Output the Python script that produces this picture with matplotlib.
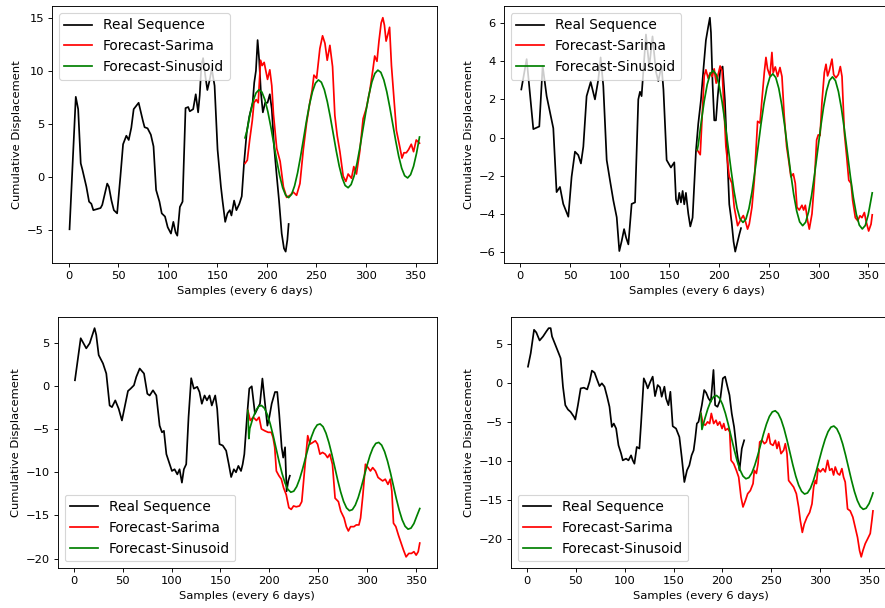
import matplotlib
matplotlib.use("Agg")
import matplotlib.pyplot as plt

# ---- panel 1 (top left) ----
p1_real_x = [1, 7.3, 9.7, 12.3, 14, 18, 20.7, 23, 25, 32.3, 34, 39, 40.7, 43.3, 45.7, 49, 52.3, 55, 58.3, 60.7,
             63.3, 65.7, 70.7, 75, 76.7, 79.7, 83, 85.7, 88.3, 91.7, 94, 97.3, 100, 103.3, 105.7, 108, 109.7, 112.3,
             115, 118, 120.7, 122.3, 125.7, 128.3, 130.7, 132.3, 134, 135.7, 138, 140, 142, 144.5, 147.3, 150.3,
             153.7, 155.3, 158, 160.3, 162.7, 164.3, 167, 169.3, 172.3, 174.7, 177, 179.7, 182.3, 185.7, 187.3, 189,
             190.7, 192.3, 194, 196, 198.3, 200.7, 203, 205, 207.3, 209.7, 212.3, 215, 217.3, 219, 220.7, 222]
p1_real_y = [-4.9, 7.56, 6.4, 1.3, 0.7, -0.9, -2.3, -2.5, -3.1, -2.9, -2.6, -0.6, -0.9, -2.2, -3.1, -3.4, 0.06, 3.1,
             3.9, 3.5, 4.65, 6.4, 7.0, 5.3, 4.7, 4.6, 4.0, 2.9, -1.2, -2.3, -3.4, -3.7, -4.7, -5.3, -4.2, -5.2, -5.5,
             -2.8, -2.3, 6.5, 6.6, 6.2, 6.4, 7.8, 6.1, 7.7, 10.5, 11.2, 9.5, 8.2, 9.0, 10.2, 8.6, 2.6, -0.9, -2.2,
             -4.2, -3.4, -3.1, -3.6, -2.2, -3.1, -2.5, -1.8, 1.3, 4.2, 5.7, 7.0, 8.9, 10.0, 12.9, 11.0, 8.0, 6.1, 7.0,
             7.0, 7.8, 6.4, 2.9, 0.4, -2.2, -5.3, -6.7, -7.0, -5.9, -4.4]
p1_sar_x = [178, 180.3, 182.7, 185.3, 187, 189.3, 191.3, 193.7, 195.3, 197.3, 199, 200.7, 203, 205, 206.7, 210,
            213.4, 216.7, 220, 223.4, 226.7, 230, 233.4, 236.8, 240.1, 243.5, 245.7, 247.5, 250.2, 253.5, 256.2,
            258.6, 260.9, 263.6, 266.3, 268.6, 271, 273.7, 277, 279.7, 282, 285.4, 287.7, 290.4, 293.7, 297.1,
            300.4, 303.8, 307.1, 308.8, 311.1, 313.1, 315.3, 317, 318.6, 320.3, 322, 323.8, 325.7, 328.3, 330.7,
            334, 336.3, 338.3, 340.7, 343, 345.7, 348, 350.7, 354]
p1_sar_y = [1.3, 1.6, 3.5, 5.3, 7.0, 7.3, 7.0, 11.0, 10.5, 10.8, 10.0, 9.2, 10.1, 8.6, 5.9, 2.7, 1.5, -0.9, -1.9,
            -1.7, -1.4, -1.7, -0.6, 2.6, 5.1, 7.1, 8.2, 9.6, 9.3, 12.1, 13.3, 12.6, 11.0, 12.4, 10.4, 5.8, 3.9, 2.4,
            0.1, -0.4, 0.3, -0.1, 1.0, 0.3, 2.4, 5.5, 6.5, 8.1, 10.2, 11.4, 10.9, 12.8, 14.5, 15.0, 14.3, 12.8,
            13.4, 14.1, 10.5, 7.3, 4.4, 2.9, 1.8, 2.3, 2.3, 2.6, 3.1, 2.4, 3.5, 3.2]
p1_sin_x = [178, 180, 183, 186, 189, 192, 195, 198, 201, 204, 207, 210, 213, 216, 219, 222, 225, 228, 231, 234,
            237, 240, 243, 246, 249, 252, 255, 258, 261, 264, 267, 270, 273, 276, 279, 282, 285, 288, 291, 294,
            297, 300, 303, 306, 309, 312, 315, 318, 321, 324, 327, 330, 333, 336, 339, 342, 345, 348, 351, 354]
p1_sin_y = [3.7, 4.38, 5.9, 7.12, 7.91, 8.22, 8.01, 7.3, 6.18, 4.75, 3.15, 1.56, 0.12, -1.0, -1.7, -1.92, -1.61,
            -0.81, 0.4, 1.93, 3.61, 5.3, 6.83, 8.04, 8.84, 9.15, 8.93, 8.23, 7.1, 5.67, 4.08, 2.48, 1.05, -0.07,
            -0.78, -0.99, -0.69, 0.11, 1.33, 2.85, 4.54, 6.22, 7.75, 8.97, 9.76, 10.07, 9.86, 9.15, 8.03, 6.59,
            5.0, 3.41, 1.97, 0.85, 0.14, -0.07, 0.24, 1.03, 2.25, 3.78]

# ---- panel 2 (top right) ----
p2_real_x = [1, 6.4, 13.1, 19.1, 22.5, 26.5, 33.2, 36.5, 39.9, 43.2, 48.3, 51.6, 55, 58.3, 61, 63.4, 66.7, 70.8,
             75.1, 78.5, 80.8, 83.5, 86.9, 90.2, 93.6, 97, 99.6, 102, 104.4, 106.4, 108.7, 112, 115.4, 118.7, 120.4,
             122, 126.4, 129.7, 133, 136.4, 138.8, 142.1, 144, 147.2, 151.5, 154.9, 156.6, 158.2, 159.9, 161.6,
             163.3, 164.9, 166.6, 169, 171, 173.3, 176.7, 179, 181.7, 184.4, 186.7, 189, 190.7, 191.8, 193.4,
             195.1, 196.8, 198.5, 201.1, 203.5, 205.8, 207.8, 210.2, 212.5, 214.5, 216.2, 217.9, 220.2, 222]
p2_real_y = [2.52, 4.11, 0.44, 0.58, 3.76, 2.17, 0.49, -2.86, -2.59, -3.48, -4.15, -2.06, -0.74, -0.92, -1.36,
             -0.48, 2.17, 2.91, 2.0, 3.05, 4.2, 2.7, -1.18, -2.24, -3.3, -4.18, -5.95, -5.42, -4.8, -5.24, -5.6,
             -3.48, -3.4, 2.0, 2.4, 2.17, 5.4, 3.7, 5.3, 3.46, 2.96, 3.76, 2.5, -1.18, -1.57, -1.3, -3.25, -3.5,
             -2.9, -3.4, -2.8, -3.5, -2.9, -4.0, -4.66, -4.2, -0.7, 0.72, 1.96, 3.7, 5.1, 5.8, 6.28, 5.5, 2.84,
             0.9, 0.9, 2.1, 3.55, 3.72, 1.96, -0.5, -3.5, -4.4, -5.45, -5.98, -5.6, -5.1, -4.75]
p2_sar_x = [178, 181, 183, 185, 186.7, 189, 191, 193, 195, 197, 199, 201, 203, 206.8, 210.2, 212.9, 215.2, 218.6,
            222, 224.3, 226.3, 228.6, 230.3, 233, 235.4, 238.7, 241.1, 243.1, 245.4, 247.1, 248.7, 251.1, 253.1,
            254.4, 256.5, 258.8, 261.2, 263.2, 265.5, 267.9, 269.9, 272.2, 274.6, 276.6, 278.3, 280.6, 283.3, 285,
            286.7, 289, 290.7, 293.4, 295.7, 298.1, 299.7, 301.5, 303.4, 305.8, 307.5, 309.1, 310.8, 313.5, 315.2,
            317.5, 319.9, 321.9, 323.6, 326, 328.3, 330.4, 332.7, 334.3, 337, 339.4, 341.7, 343.7, 346.1, 347.7,
            350.4, 352.8, 354]
p2_sar_y = [-0.65, -0.9, 1.2, 3.23, 3.55, 3.1, 3.4, 3.2, 3.6, 2.85, 3.3, 3.75, 3.5, -0.48, -2.06, -2.4, -3.65,
            -4.62, -4.27, -4.09, -4.36, -4.8, -4.54, -3.65, -2.24, 0.85, 0.76, 2.0, 3.4, 4.2, 3.6, 3.23, 4.46, 3.4,
            3.7, 3.2, 3.67, 3.2, 1.11, -0.48, -1.18, -2.06, -1.9, -2.4, -3.65, -3.8, -3.55, -3.8, -3.55, -4.36, -4.8,
            -4.0, -2.4, -0.12, 0.14, 0.1, 1.82, 3.4, 3.84, 3.23, 3.5, 4.11, 3.3, 3.13, 3.3, 3.72, 3.2, 0.23, -1.0,
            -2.24, -2.4, -3.3, -4.2, -4.36, -4.1, -4.2, -3.93, -4.36, -4.9, -4.54, -4.05]
p2_sin_x = [178, 179, 182, 185, 188, 191, 194, 197, 200, 203, 206, 209, 212, 215, 218, 221, 224, 227, 230, 233,
            236, 239, 242, 245, 248, 251, 254, 257, 260, 263, 266, 269, 272, 275, 278, 281, 284, 287, 290, 293,
            296, 299, 302, 305, 308, 311, 314, 317, 320, 323, 326, 329, 332, 335, 338, 341, 344, 347, 350, 353, 354]
p2_sin_y = [-0.65, -0.39, 0.82, 1.91, 2.78, 3.33, 3.51, 3.31, 2.74, 1.86, 0.76, -0.47, -1.7, -2.81, -3.69, -4.26,
            -4.45, -4.27, -3.72, -2.86, -1.77, -0.56, 0.66, 1.75, 2.61, 3.16, 3.34, 3.14, 2.58, 1.7, 0.59, -0.64,
            -1.87, -2.98, -3.85, -4.42, -4.62, -4.44, -3.89, -3.03, -1.93, -0.72, 0.49, 1.58, 2.44, 2.99, 3.18,
            2.98, 2.41, 1.53, 0.42, -0.81, -2.03, -3.14, -4.02, -4.59, -4.79, -4.61, -4.05, -3.19, -2.9]

# ---- panel 3 (bottom left) ----
p3_real_x = [1, 6.9, 12.6, 16.1, 21.1, 22.8, 25.3, 29.7, 33.1, 36.5, 38.9, 42.3, 45.8, 49.1, 51.9, 55.3, 58, 61.4,
             63.8, 67.3, 71.7, 75.1, 77.5, 80.9, 84.3, 87.7, 90.1, 92.1, 94.6, 98, 100.3, 103, 105.8, 108.1, 110.5,
             112.5, 114.9, 117.3, 120, 122.7, 126.2, 128.5, 130.9, 133.7, 136.1, 138.8, 141.1, 144.6, 146.6, 149,
             152.3, 155.8, 158.5, 160.9, 163.7, 165.9, 168.3, 171, 172.7, 174.4, 177.1, 179.5, 182, 185.3, 187.7,
             190.4, 192.9, 195.6, 198, 200, 202.4, 205.8, 208.1, 210.1, 212.6, 214.2, 216.1, 217.7, 219.4, 221]
p3_real_y = [0.66, 5.53, 4.36, 4.95, 6.7, 5.92, 3.58, 2.61, 1.44, -2.26, -2.45, -1.67, -2.65, -4.0, -2.45, -0.58,
             -0.31, 0.08, 1.05, 2.02, 1.44, -0.9, -1.1, -0.5, -1.1, -4.6, -5.37, -5.2, -7.9, -9.07, -9.85, -9.65,
             -10.24, -9.65, -11.2, -9.65, -9.07, -3.6, 0.9, -0.31, -0.1, -0.7, -2.06, -1.1, -1.67, -1.1, -2.26, -1.1,
             -2.65, -6.74, -6.9, -7.5, -9.07, -10.55, -9.65, -10.0, -9.26, -9.85, -9.07, -7.9, -3.62, -0.3, -0.04,
             -3.23, -2.65, -2.06, 0.86, -2.06, -4.6, -3.6, -2.06, -0.7, -0.7, -3.23, -7.1, -8.3, -7.1, -12.2, -11.0,
             -10.4]
p3_sar_x = [178, 180.5, 183.5, 186.8, 189.5, 191.9, 195.4, 198.8, 202, 203.8, 205.5, 207.2, 209.8, 212.3, 214.6,
            217.3, 220, 222.4, 224.8, 227.5, 230.9, 233.2, 236, 239.3, 241.7, 244.4, 247.1, 249.4, 251.8, 254.5,
            257.2, 259.6, 261.9, 264.6, 267.3, 270.7, 273.1, 276.5, 278.8, 280.9, 283.2, 286.6, 289, 291.7, 293.4,
            295.8, 298.4, 301.1, 303.5, 305.8, 308.6, 311.3, 313.6, 316, 318.7, 321.4, 323.8, 325.4, 327.1, 329.5,
            332.2, 334.6, 337.3, 340, 342.8, 345.5, 348, 350.3, 352.4, 354]
p3_sar_y = [-2.84, -4.0, -3.62, -4.0, -3.62, -4.98, -5.2, -5.37, -5.37, -5.96, -7.1, -9.85, -10.4, -10.8, -11.8,
            -12.6, -14.1, -14.3, -13.9, -14.0, -13.9, -13.4, -9.85, -5.76, -6.74, -6.55, -6.35, -6.74, -7.9, -7.7,
            -7.9, -8.3, -7.9, -9.07, -13.0, -13.4, -14.5, -15.3, -16.3, -16.8, -16.3, -16.3, -16.1, -16.1, -15.3,
            -12.6, -9.07, -9.46, -9.85, -9.46, -9.85, -10.6, -10.8, -11.0, -10.8, -11.4, -10.8, -12.2, -15.9, -16.3,
            -17.3, -18.1, -19.0, -19.8, -19.4, -19.4, -19.2, -19.6, -19.2, -18.2]
p3_sin_x = [178, 179, 180, 183, 186, 189, 192, 195, 198, 201, 204, 207, 210, 213, 216, 219, 222, 225, 228, 231, 234,
            237, 240, 243, 246, 249, 252, 255, 258, 261, 264, 267, 270, 273, 276, 279, 282, 285, 288, 291, 294,
            297, 300, 303, 306, 309, 312, 315, 318, 321, 324, 327, 330, 333, 336, 339, 342, 345, 348, 351, 354]
p3_sin_y = [-2.84, -6.1, -4.93, -3.78, -2.9, -2.37, -2.26, -2.58, -3.33, -4.43, -5.78, -7.28, -8.78, -10.13,
            -11.23, -11.98, -12.31, -12.19, -11.66, -10.78, -9.63, -8.35, -7.07, -5.92, -5.04, -4.51, -4.4, -4.72,
            -5.47, -6.57, -7.92, -9.42, -10.92, -12.27, -13.37, -14.12, -14.45, -14.33, -13.8, -12.92, -11.77,
            -10.49, -9.21, -8.06, -7.18, -6.65, -6.54, -6.86, -7.61, -8.71, -10.06, -11.56, -13.06, -14.41,
            -15.51, -16.26, -16.59, -16.47, -15.94, -15.06, -14.2]

# ---- panel 4 (bottom right) ----
p4_real_x = [1, 3.8, 7.2, 9.5, 12.9, 16.4, 19.8, 22.2, 24.2, 25.6, 29, 32.4, 34.4, 36.8, 39.2, 41.9, 44.6, 48.1,
             49.4, 52.1, 54.9, 58.2, 61.6, 64, 66.4, 69.1, 71.8, 74.2, 76.6, 79.3, 82, 84.4, 86.8, 88.8, 91.2, 93.6,
             96.3, 98, 101.4, 103.8, 106.5, 108.2, 109.9, 112.3, 115, 116.7, 119.5, 121.8, 123.5, 126.2, 128.6, 131,
             133.7, 136.1, 137.8, 140.6, 142.3, 144.7, 146.7, 149.1, 152.5, 155.9, 158.3, 161, 163.7, 166.1, 168.4,
             170.5, 172.1, 173.8, 175.5, 178.9, 181.3, 183.3, 185.7, 188.1, 190.8, 192.5, 194.9, 197.6, 200.4,
             202.7, 205.1, 207.2, 209.5, 211.9, 214.6, 217.4, 219.8, 222.2]
p4_real_y = [2.1, 3.82, 6.83, 6.49, 5.46, 5.97, 6.62, 7.04, 7.04, 5.97, 4.9, 3.82, 3.18, -0.47, -2.84, -3.4, -3.7,
             -4.34, -4.68, -2.84, -0.69, -0.6, -0.82, 0.17, 1.59, 1.33, 0.39, -0.39, -0.04, -0.47, -1.76, -3.05,
             -5.63, -5.2, -5.84, -7.99, -9.06, -9.92, -9.7, -9.92, -9.28, -9.92, -10.35, -8.2, -8.4, -5.2, 0.6,
             -0.04, -0.69, 0.17, 0.82, -1.68, -0.26, -0.56, -1.76, -0.47, -1.98, -2.84, -1.12, -5.54, -5.84, -6.92,
             -9.5, -12.7, -11.2, -10.56, -9.28, -8.63, -7.13, -5.2, -4.98, -2.84, -0.9, -1.24, -1.98, -2.4, 1.68,
             -2.84, -3.05, -2.2, 0.6, 0.82, -0.47, -1.55, -3.91, -5.63, -8.63, -11.2, -8.4, -7.35]
p4_sar_x = [178, 180, 182.4, 184.8, 186.9, 188.6, 191, 193.4, 195.1, 197.2, 199.6, 201.3, 203, 205.4, 207.4, 208.8,
            211.5, 214.2, 216.6, 219, 221, 223.4, 225.8, 228.5, 231.3, 232.6, 234.7, 236.4, 238.1, 240.5, 242.9,
            244.9, 247.3, 249, 251.7, 254.1, 255.8, 257.5, 259.9, 262.6, 264.3, 266, 267.7, 270.1, 272.8, 275.6,
            277.9, 279.6, 281.7, 283.7, 286.5, 289.2, 291.6, 293.3, 295, 296.1, 297.8, 300.1, 302.9, 305.2, 307.6,
            309.7, 312, 313.7, 315.4, 317.8, 319.9, 322.2, 323.9, 325.6, 328, 330.7, 333.4, 335.8, 338.2, 340.3,
            342, 343.7, 346.1, 348.5, 351.2, 352.9, 354]
p4_sar_y = [-3.9, -5.2, -5.41, -4.98, -5.2, -3.9, -5.2, -4.77, -5.41, -4.98, -5.84, -5.2, -6.06, -5.84, -6.27,
            -9.92, -10.35, -11.2, -12.07, -14.65, -15.9, -15.1, -14.2, -13.8, -12.9, -11.2, -11.6, -10.35, -7.56,
            -7.35, -7.78, -7.56, -6.49, -7.78, -8.0, -7.35, -8.4, -7.56, -9.06, -8.63, -7.78, -9.06, -12.5, -12.9,
            -13.35, -14.2, -15.9, -17.6, -19.16, -18.08, -17.2, -16.6, -15.5, -13.35, -12.5, -12.9, -10.98, -11.4,
            -10.98, -11.4, -9.92, -11.2, -10.98, -11.8, -10.77, -11.6, -11.8, -10.98, -12.07, -12.7, -16.15, -16.4,
            -17.2, -18.5, -19.8, -21.5, -22.3, -21.5, -20.6, -20.0, -19.3, -17.6, -16.4]
p4_sin_x = [178, 179, 182, 185, 188, 191, 194, 197, 200, 203, 206, 209, 212, 215, 218, 221, 224, 227, 230, 233,
            236, 239, 242, 245, 248, 251, 254, 257, 260, 263, 266, 269, 272, 275, 278, 281, 284, 287, 290, 293,
            296, 299, 302, 305, 308, 311, 314, 317, 320, 323, 326, 329, 332, 335, 338, 341, 344, 347, 350, 353, 354]
p4_sin_y = [-3.9, -5.96, -4.56, -3.31, -2.33, -1.74, -1.6, -1.94, -2.73, -3.89, -5.34, -6.94, -8.54, -9.99, -11.15,
            -11.94, -12.28, -12.14, -11.55, -10.57, -9.32, -7.92, -6.52, -5.27, -4.29, -3.7, -3.56, -3.9, -4.69,
            -5.85, -7.3, -8.9, -10.5, -11.95, -13.11, -13.9, -14.24, -14.1, -13.51, -12.53, -11.28, -9.88, -8.48,
            -7.23, -6.25, -5.66, -5.52, -5.86, -6.65, -7.81, -9.26, -10.86, -12.46, -13.91, -15.07, -15.86, -16.2,
            -16.06, -15.47, -14.49, -14.1]

panels = [
    (p1_real_x, p1_real_y, p1_sar_x, p1_sar_y, p1_sin_x, p1_sin_y, "upper left"),
    (p2_real_x, p2_real_y, p2_sar_x, p2_sar_y, p2_sin_x, p2_sin_y, "upper left"),
    (p3_real_x, p3_real_y, p3_sar_x, p3_sar_y, p3_sin_x, p3_sin_y, "lower left"),
    (p4_real_x, p4_real_y, p4_sar_x, p4_sar_y, p4_sin_x, p4_sin_y, "lower left"),
]

# axes boxes in figure fractions (the right column runs a bit past the image edge)
rects = [
    [0.0588, 0.5669, 0.4350, 0.4232],
    [0.5692, 0.5669, 0.4362, 0.4232],
    [0.0652, 0.0653, 0.4286, 0.4138],
    [0.5771, 0.0653, 0.4288, 0.4138],
]

DPI = 82.6
fig = plt.figure(figsize=(885 / DPI, 608 / DPI), dpi=DPI)

for rect, (rx, ry, sx, sy, nx, ny, loc) in zip(rects, panels):
    ax = fig.add_axes(rect)
    ax.plot(rx, ry, "k", label="Real Sequence")
    ax.plot(sx, sy, "r", label="Forecast-Sarima")
    ax.plot(nx, ny, "g", label="Forecast-Sinusoid")
    ax.set_xticks([0, 50, 100, 150, 200, 250, 300, 350])
    ax.set_xlabel("Samples (every 6 days)")
    ax.set_ylabel("Cumulative Displacement")
    ax.legend(loc=loc, fontsize="large")

fig.savefig("out.png", dpi=DPI)
